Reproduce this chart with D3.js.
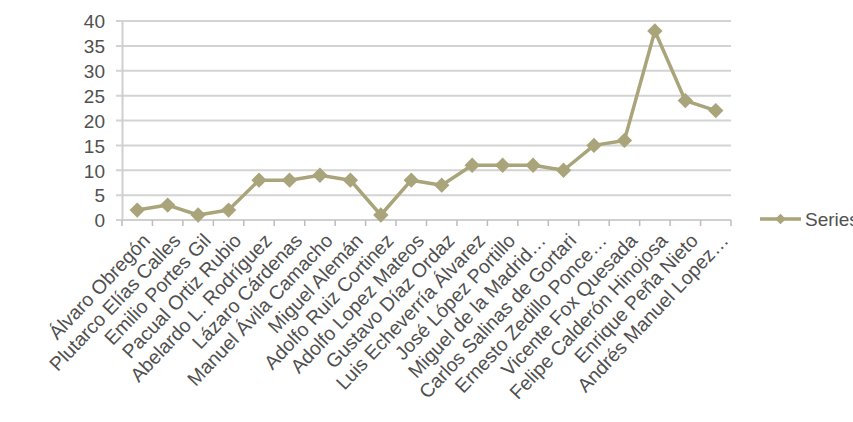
<!DOCTYPE html>
<html>
<head>
<meta charset="utf-8">
<script src="https://cdn.jsdelivr.net/npm/d3@7"></script>
<style>
  body { margin: 0; background: #fff; overflow: hidden; }
  text { font-family: "Liberation Sans", Arial, sans-serif; }
</style>
</head>
<body>
<div id="chart"></div>
<script>
// Categorías (presidentes) y valores de la serie
var categories = [
  "Álvaro Obregón", "Plutarco Elías Calles", "Emilio Portes Gil", "Pacual Ortiz Rubio",
  "Abelardo L. Rodríguez", "Lázaro Cárdenas", "Manuel Ávila Camacho", "Miguel Alemán",
  "Adolfo Ruiz Cortinez", "Adolfo Lopez Mateos", "Gustavo Díaz Ordaz", "Luis Echeverría Álvarez",
  "José López Portillo", "Miguel de la Madrid…", "Carlos Salinas de Gortari", "Ernesto Zedillo Ponce…",
  "Vicente Fox Quesada", "Felipe Calderón Hinojosa", "Enrique Peña Nieto", "Andrés Manuel Lopez…"
];
var values = [2, 3, 1, 2, 8, 8, 9, 8, 1, 8, 7, 11, 11, 11, 10, 15, 16, 38, 24, 22];
var yTicks = [0, 5, 10, 15, 20, 25, 30, 35, 40];
var seriesName = "Series1";

var width = 853, height = 422;
var margin = { top: 21, right: 122, bottom: 202, left: 122 };
var color = "#a9a47a";

var svg = d3.select("#chart").append("svg")
  .attr("width", width)
  .attr("height", height);

var x = d3.scaleBand()
  .domain(categories)
  .range([margin.left, width - margin.right]);

var y = d3.scaleLinear()
  .domain([0, 40])
  .range([height - margin.bottom, margin.top]);

// Líneas de cuadrícula
svg.append("g")
  .selectAll("line")
  .data(yTicks)
  .enter().append("line")
  .attr("x1", margin.left - 6)
  .attr("x2", width - margin.right)
  .attr("y1", function(d) { return y(d); })
  .attr("y2", function(d) { return y(d); })
  .attr("stroke", "#d3d3d3")
  .attr("stroke-width", 2);

// Eje Y
var yAxis = svg.append("g")
  .attr("transform", "translate(" + margin.left + ",0)")
  .call(d3.axisLeft(y).tickValues(yTicks).tickSize(0).tickPadding(17));
yAxis.select(".domain").attr("stroke", "#cfcfcf").attr("stroke-width", 2);
yAxis.selectAll("text")
  .style("font-size", "19px")
  .attr("fill", "#505050")
  .attr("dy", "0.36em");

// Eje X con marcas en los límites de categoría
var xAxis = svg.append("g")
  .attr("transform", "translate(0," + y(0) + ")");
xAxis.append("line")
  .attr("x1", margin.left)
  .attr("x2", width - margin.right)
  .attr("stroke", "#cfcfcf")
  .attr("stroke-width", 2);
xAxis.selectAll(".tick")
  .data(d3.range(categories.length + 1))
  .enter().append("line")
  .attr("x1", function(i) { return margin.left + i * x.step(); })
  .attr("x2", function(i) { return margin.left + i * x.step(); })
  .attr("y1", 0)
  .attr("y2", 6)
  .attr("stroke", "#bdbdbd")
  .attr("stroke-width", 1.5);

xAxis.selectAll(".lbl")
  .data(categories)
  .enter().append("text")
  .attr("transform", function(d) {
    return "translate(" + (x(d) + x.bandwidth() / 2 + 9) + ",17) rotate(-46.5)";
  })
  .attr("text-anchor", "end")
  .attr("dy", "0.35em")
  .style("font-size", "19.5px")
  .attr("fill", "#505050")
  .text(function(d) { return d; });

// Línea de la serie
var line = d3.line()
  .x(function(d, i) { return x(categories[i]) + x.bandwidth() / 2; })
  .y(function(d) { return y(d); });

svg.append("path")
  .datum(values)
  .attr("d", line)
  .attr("fill", "none")
  .attr("stroke", color)
  .attr("stroke-width", 3.5)
  .attr("stroke-linejoin", "round");

var diamond = d3.symbol().type(d3.symbolDiamond2).size(150);
svg.append("g")
  .selectAll("path")
  .data(values)
  .enter().append("path")
  .attr("d", diamond)
  .attr("transform", function(d, i) {
    return "translate(" + (x(categories[i]) + x.bandwidth() / 2) + "," + y(d) + ")";
  })
  .attr("fill", color);

// Leyenda (recortada por el borde derecho, como en el original)
var legend = svg.append("g").attr("transform", "translate(760,219)");
legend.append("line")
  .attr("x1", 0).attr("x2", 41)
  .attr("stroke", color).attr("stroke-width", 3.5);
legend.append("path")
  .attr("d", d3.symbol().type(d3.symbolDiamond2).size(70))
  .attr("transform", "translate(20.5,0)")
  .attr("fill", color);
legend.append("text")
  .attr("x", 45)
  .attr("dy", "0.36em")
  .style("font-size", "19px")
  .attr("fill", "#505050")
  .text(seriesName);
</script>
</body>
</html>
